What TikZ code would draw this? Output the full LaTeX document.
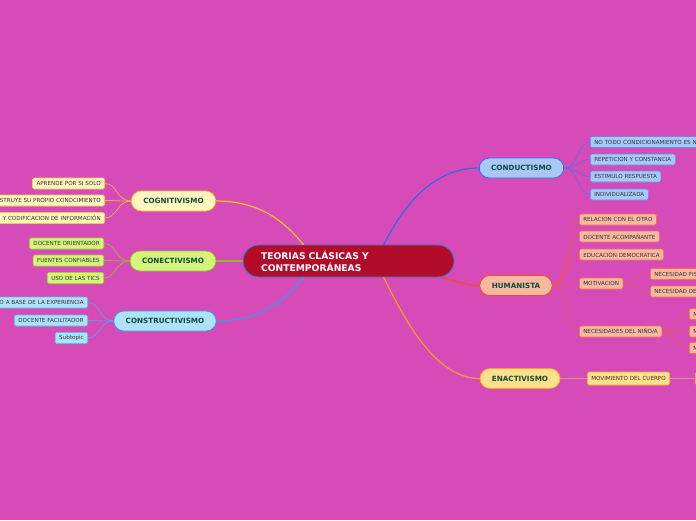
\documentclass[tikz,border=0pt]{standalone}
\usepackage{fontspec}
\setmainfont{DejaVu Sans}
\definecolor{bg}{HTML}{D64BB8}
\definecolor{centrefill}{HTML}{B30C2A}
\definecolor{centreline}{HTML}{2F7FD4}
\definecolor{topictxt}{HTML}{0F4A3C}
\definecolor{leaftxt}{HTML}{333333}
\definecolor{condfill}{HTML}{A8C8F8}
\definecolor{condline}{HTML}{2D6BE0}
\definecolor{condleaf}{HTML}{5E8EF0}
\definecolor{condtwig}{HTML}{5C70E0}
\definecolor{humfill}{HTML}{F8B9A0}
\definecolor{humline}{HTML}{F05020}
\definecolor{humleaf}{HTML}{F07050}
\definecolor{humtwig}{HTML}{E85858}
\definecolor{enacfill}{HTML}{FFE08A}
\definecolor{enacline}{HTML}{F5A020}
\definecolor{enacleaf}{HTML}{F5B030}
\definecolor{enactwig}{HTML}{E58A9A}
\definecolor{cogfill}{HTML}{FFF7BF}
\definecolor{cogline}{HTML}{F5C518}
\definecolor{cogleaf}{HTML}{F2C94C}
\definecolor{cogtwig}{HTML}{F0B838}
\definecolor{conecfill}{HTML}{D4F57C}
\definecolor{conecline}{HTML}{98B828}
\definecolor{conecleaf}{HTML}{A8D040}
\definecolor{conectwig}{HTML}{9EB43C}
\definecolor{constfill}{HTML}{AEE2FA}
\definecolor{constline}{HTML}{2E9FE0}
\definecolor{constleaf}{HTML}{5ABDF0}
\definecolor{consttwig}{HTML}{4AA8E8}

\begin{document}
\begin{tikzpicture}[x=1pt,y=-1pt,
  topic/.style={draw, rounded corners=10pt, line width=.8pt, minimum height=20pt, inner xsep=12pt, inner ysep=0pt, font=\fontsize{7.2}{8}\selectfont\bfseries, text=topictxt},
  leaf/.style={draw, rounded corners=1.5pt, line width=.6pt, minimum height=11pt, inner xsep=4pt, inner ysep=0pt, font=\fontsize{5.6}{6}\selectfont, text=leaftxt},
  branch/.style={line width=1.2pt},
  twig/.style={line width=.7pt}]
\useasboundingbox (0,0) rectangle (696,520);
\clip (0,0) rectangle (696,520);
\fill[bg] (0,0) rectangle (696,520);

\node[draw=centreline, fill=centrefill, rounded corners=16pt, line width=.8pt, minimum width=211pt, minimum height=32pt, text width=175pt, align=left, inner xsep=18pt, text=white, font=\fontsize{9.2}{12}\selectfont\bfseries] (teorias) at (348.5,261) {TEORIAS CLÁSICAS Y\\CONTEMPORÁNEAS};

\node[topic, draw=condline, fill=condfill] (cond) at (521.5,168) {CONDUCTISMO};
\node[topic, draw=humline, fill=humfill] (hum) at (516,285.5) {HUMANISTA};
\node[topic, draw=enacline, fill=enacfill] (enac) at (520,378.5) {ENACTIVISMO};
\node[topic, draw=cogline, fill=cogfill] (cog) at (173.5,201) {COGNITIVISMO};
\node[topic, draw=conecline, fill=conecfill] (conec) at (173,261) {CONECTIVISMO};
\node[topic, draw=constline, fill=constfill] (const) at (165,321) {CONSTRUCTIVISMO};

\node[leaf, draw=condleaf, fill=condfill, anchor=west, text width=140pt, align=left] (cond1) at (590,142) {NO TODO CONDICIONAMIENTO ES N};
\node[leaf, draw=condleaf, fill=condfill, anchor=west] (cond2) at (590,159.5) {REPETICION Y CONSTANCIA};
\node[leaf, draw=condleaf, fill=condfill, anchor=west] (cond3) at (590,176.5) {ESTIMULO RESPUESTA};
\node[leaf, draw=condleaf, fill=condfill, anchor=west] (cond4) at (590,194.5) {INDIVIDUALIZADA};

\node[leaf, draw=humleaf, fill=humfill, anchor=west] (hum1) at (579,219.5) {RELACION CON EL OTRO};
\node[leaf, draw=humleaf, fill=humfill, anchor=west] (hum2) at (579,236.5) {DOCENTE ACOMPAÑANTE};
\node[leaf, draw=humleaf, fill=humfill, anchor=west] (hum3) at (579,254.5) {EDUCACIÓN DEMOCRATICA};
\node[leaf, draw=humleaf, fill=humfill, anchor=west] (mot) at (579,283.5) {MOTIVACION};
\node[leaf, draw=humleaf, fill=humfill, anchor=west] (nino) at (579,331.5) {NECESIDADES DEL NIÑO/A};
\node[leaf, draw=humleaf, fill=humfill, anchor=west, text width=70pt, align=left] (mot1) at (650,274) {NECESIDAD FIS};
\node[leaf, draw=humleaf, fill=humfill, anchor=west, text width=70pt, align=left] (mot2) at (650,291.5) {NECESIDAD DE};
\node[leaf, draw=humleaf, fill=humfill, anchor=west, text width=20pt, align=left] (nino1) at (689,314) {M};
\node[leaf, draw=humleaf, fill=humfill, anchor=west, text width=20pt, align=left] (nino2) at (689,331.5) {M};
\node[leaf, draw=humleaf, fill=humfill, anchor=west, text width=20pt, align=left] (nino3) at (689,348) {M};

\node[leaf, draw=enacleaf, fill=enacfill, anchor=west, minimum height=13pt] (mov) at (587,378.5) {MOVIMIENTO DEL CUERPO};
\node[leaf, draw=enacleaf, fill=enacfill, anchor=west, minimum height=13pt, minimum width=40pt] (mov1) at (695,378.5) {};

\node[leaf, draw=cogleaf, fill=cogfill, anchor=east] (cog1) at (105,183.5) {APRENDE POR SI SOLO};
\node[leaf, draw=cogleaf, fill=cogfill, anchor=east, text width=140pt, align=right] (cog2) at (105,200.5) {STRUYE SU PROPIO CONOCIMIENTO};
\node[leaf, draw=cogleaf, fill=cogfill, anchor=east, text width=140pt, align=right] (cog3) at (105,218) {Y CODIFICACION DE INFORMACIÓN};

\node[leaf, draw=conecleaf, fill=conecfill, anchor=east] (conec1) at (104,243.5) {DOCENTE ORIENTADOR};
\node[leaf, draw=conecleaf, fill=conecfill, anchor=east] (conec2) at (104,260.5) {FUENTES CONFIABLES};
\node[leaf, draw=conecleaf, fill=conecfill, anchor=east] (conec3) at (104,278) {USO DE LAS TICS};

\node[leaf, draw=constleaf, fill=constfill, anchor=east, text width=120pt, align=right] (const1) at (88,302.5) {O A BASE DE LA EXPERIENCIA};
\node[leaf, draw=constleaf, fill=constfill, anchor=east] (const2) at (88,320.5) {DOCENTE FACILITADOR};
\node[leaf, draw=constleaf, fill=constfill, anchor=east] (const3) at (88,338) {Subtopic};

% main branches
\draw[branch, condline] (teorias.25) .. controls +(20,-40) and +(-45,0) .. (cond.west);
\draw[branch, humline] (teorias.-10) .. controls +(15,3) and +(-15,0) .. (hum.west);
\draw[branch, enacline] (teorias.-25) .. controls +(20,40) and +(-45,0) .. (enac.west);
\draw[branch, cogline] (cog.east) .. controls +(45,0) and +(-18,-22) .. (teorias.160);
\draw[branch, conecline] (conec.east) -- (teorias.west);
\draw[branch, constline] (const.east) .. controls +(45,0) and +(-18,22) .. (teorias.200);

\draw[twig, condtwig] (cond.east) .. controls +(14,0) and +(-12,0) .. (cond1.west);
\draw[twig, condtwig] (cond.east) .. controls +(14,0) and +(-12,0) .. (cond2.west);
\draw[twig, condtwig] (cond.east) .. controls +(14,0) and +(-12,0) .. (cond3.west);
\draw[twig, condtwig] (cond.east) .. controls +(14,0) and +(-12,0) .. (cond4.west);

\draw[twig, humtwig] (hum.east) .. controls +(16,0) and +(-12,0) .. (hum1.west);
\draw[twig, humtwig] (hum.east) .. controls +(16,0) and +(-12,0) .. (hum2.west);
\draw[twig, humtwig] (hum.east) .. controls +(16,0) and +(-12,0) .. (hum3.west);
\draw[twig, humtwig] (hum.east) .. controls +(16,0) and +(-12,0) .. (mot.west);
\draw[twig, humtwig] (hum.east) .. controls +(16,0) and +(-12,0) .. (nino.west);
\draw[twig, humtwig] (mot.east) .. controls +(12,0) and +(-12,0) .. (mot1.west);
\draw[twig, humtwig] (mot.east) .. controls +(12,0) and +(-12,0) .. (mot2.west);
\draw[twig, humtwig] (nino.east) .. controls +(12,0) and +(-12,0) .. (nino1.west);
\draw[twig, humtwig] (nino.east) -- (nino2.west);
\draw[twig, humtwig] (nino.east) .. controls +(12,0) and +(-12,0) .. (nino3.west);

\draw[twig, enactwig, line width=1pt] (enac.east) -- (mov.west);
\draw[twig, enactwig, line width=1pt] (mov.east) -- (mov1.west);

\draw[twig, cogtwig] (cog.west) .. controls +(-14,0) and +(12,0) .. (cog1.east);
\draw[twig, cogtwig] (cog.west) .. controls +(-14,0) and +(12,0) .. (cog2.east);
\draw[twig, cogtwig] (cog.west) .. controls +(-14,0) and +(12,0) .. (cog3.east);

\draw[twig, conectwig] (conec.west) .. controls +(-14,0) and +(12,0) .. (conec1.east);
\draw[twig, conectwig] (conec.west) .. controls +(-14,0) and +(12,0) .. (conec2.east);
\draw[twig, conectwig] (conec.west) .. controls +(-14,0) and +(12,0) .. (conec3.east);

\draw[twig, consttwig] (const.west) .. controls +(-14,0) and +(12,0) .. (const1.east);
\draw[twig, consttwig] (const.west) .. controls +(-14,0) and +(12,0) .. (const2.east);
\draw[twig, consttwig] (const.west) .. controls +(-14,0) and +(12,0) .. (const3.east);
\end{tikzpicture}
\end{document}
